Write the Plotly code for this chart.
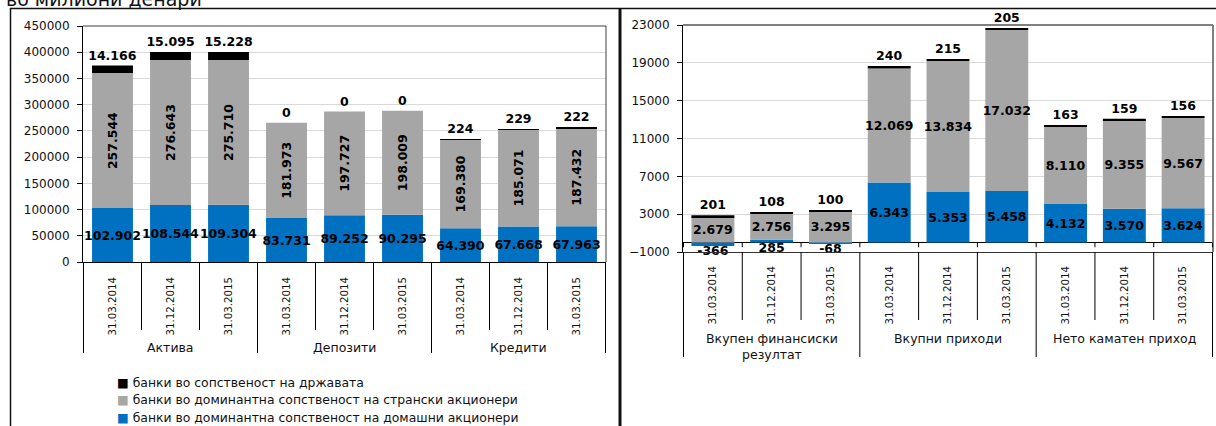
import plotly.graph_objects as go

DATES = ["31.03.2014", "31.12.2014", "31.03.2015"]
LEFT_GROUPS = ["Актива", "Депозити", "Кредити"]
RIGHT_GROUPS = ["Вкупен финансиски<br>резултат", "Вкупни приходи", "Нето каматен приход"]
SERIES = [
    "банки во доминантна сопственост на домашни акционери",
    "банки во доминантна сопственост на странски акционери",
    "банки во сопственост на државата",
]
COLORS = ["#0070C0", "#A6A6A6", "#000000"]

LEFT_DOMESTIC = [102902, 108544, 109304, 83731, 89252, 90295, 64390, 67668, 67963]
LEFT_FOREIGN = [257544, 276643, 275710, 181973, 197727, 198009, 169380, 185071, 187432]
LEFT_STATE = [14166, 15095, 15228, 0, 0, 0, 224, 229, 222]

RIGHT_DOMESTIC = [-366, 285, -68, 6343, 5353, 5458, 4132, 3570, 3624]
RIGHT_FOREIGN = [2679, 2756, 3295, 12069, 13834, 17032, 8110, 9355, 9567]
RIGHT_STATE = [201, 108, 100, 240, 215, 205, 163, 159, 156]

W, H = 1216, 426
FONT = "DejaVu Sans"
LABEL_FONT = {"family": FONT, "size": 12.5, "color": "#000", "weight": "bold"}


def px(x):
    return x / W


def py(y):
    return 1 - y / H


def fmt(v):
    return f"{v:,}".replace(",", ".")


def categories(groups):
    return [f"{g}|{d}" for g in groups for d in DATES]


fig = go.Figure()

panels = [
    ("x", "y", LEFT_GROUPS, [LEFT_DOMESTIC, LEFT_FOREIGN, LEFT_STATE], [0, -90, 0], 0.705, 0),
    ("x2", "y2", RIGHT_GROUPS, [RIGHT_DOMESTIC, RIGHT_FOREIGN, RIGHT_STATE], [0, 0, 0], 0.73, 1000),
]
for xa, ya, groups, values, angles, bar_width, small in panels:
    cats = categories(groups)
    for idx, (name, color, vals, ang) in enumerate(zip(SERIES, COLORS, values, angles)):
        # tiny first-series segments get their label below the bar (drawn on top later)
        labels = [fmt(v) if idx or abs(v) >= small else "" for v in vals]
        fig.add_trace(
            go.Bar(
                x=cats,
                y=vals,
                name=name,
                width=bar_width,
                xaxis=xa,
                yaxis=ya,
                marker={"color": color, "line": {"width": 0}},
                text=labels,
                textposition="outside" if idx == 2 else "inside",
                insidetextanchor="middle",
                textangle=ang,
                constraintext="none",
                cliponaxis=False,
                textfont=LABEL_FONT,
                showlegend=False,
            )
        )
    tiny = [(c, v) for c, v in zip(cats, values[0]) if abs(v) < small]
    if tiny:
        fig.add_trace(
            go.Scatter(
                x=[c for c, _ in tiny],
                y=[min(v, 0) for _, v in tiny],
                mode="text",
                text=[fmt(v) for _, v in tiny],
                textposition="bottom center",
                textfont=LABEL_FONT,
                xaxis=xa,
                yaxis=ya,
                cliponaxis=False,
                showlegend=False,
                hoverinfo="skip",
            )
        )

tick_font = {"family": FONT, "size": 12, "color": "#111"}
date_font = {"family": FONT, "size": 10.2, "color": "#111"}

layout = {
    "width": W,
    "height": H,
    "margin": {"l": 0, "r": 0, "t": 0, "b": 0, "autoexpand": False},
    "paper_bgcolor": "white",
    "plot_bgcolor": "white",
    "barmode": "relative",
    "font": {"family": FONT, "color": "#111"},
    "showlegend": False,
    "xaxis": {
        "domain": [px(83), px(606)],
        "anchor": "y",
        "type": "category",
        "tickvals": categories(LEFT_GROUPS),
        "ticktext": DATES * 3,
        "tickangle": -90,
        "tickfont": date_font,
        "ticks": "",
        "ticklabelstandoff": 10,
        "showline": True,
        "linecolor": "#000",
        "showgrid": False,
    },
    "yaxis": {
        "domain": [py(262), py(26)],
        "anchor": "x",
        "range": [0, 450000],
        "dtick": 50000,
        "tickformat": "d",
        "tickfont": tick_font,
        "ticks": "outside",
        "ticklen": 5,
        "tickcolor": "#000",
        "ticklabelstandoff": 5,
        "showline": True,
        "linecolor": "#000",
        "gridcolor": "#d9d9d9",
        "zeroline": False,
    },
    "xaxis2": {
        "domain": [px(683), px(1213)],
        "anchor": "y2",
        "type": "category",
        "tickvals": categories(RIGHT_GROUPS),
        "ticktext": DATES * 3,
        "tickangle": -90,
        "tickfont": date_font,
        "ticks": "",
        "ticklabelstandoff": 9,
        "showline": True,
        "linecolor": "#333",
        "showgrid": False,
    },
    "yaxis2": {
        "domain": [py(252), py(25)],
        "anchor": "x2",
        "range": [-1000, 23000],
        "tickvals": list(range(-1000, 23001, 4000)),
        "tickformat": "d",
        "tickfont": tick_font,
        "ticks": "outside",
        "ticklen": 5,
        "tickcolor": "#000",
        "ticklabelstandoff": 5,
        "showline": True,
        "linecolor": "#000",
        "gridcolor": "#d9d9d9",
        "zeroline": True,
        "zerolinecolor": "#000",
        "zerolinewidth": 1,
    },
}
fig.update_layout(**layout)

shapes = []
# plot-area borders (top and right)
for xa, ya, color, width in (("x", "y", "#404040", 1), ("x2", "y2", "#808080", 2)):
    shapes.append({"type": "line", "xref": f"{xa} domain", "yref": f"{ya} domain",
                   "x0": 0, "x1": 1, "y0": 1, "y1": 1, "line": {"color": color, "width": width}})
    shapes.append({"type": "line", "xref": f"{xa} domain", "yref": f"{ya} domain",
                   "x0": 1, "x1": 1, "y0": 0, "y1": 1, "line": {"color": color, "width": width}})

# category dividers below each axis
for xa, top, short, long in (("x", 262, 330, 353), ("x2", 252, 320, 357)):
    for i in range(10):
        shapes.append({"type": "line", "xref": xa, "yref": "paper",
                       "x0": i - 0.5, "x1": i - 0.5, "y0": py(top), "y1": py(long if i % 3 == 0 else short),
                       "line": {"color": "#000", "width": 1}})

# small ticks on the zero line of the right chart
for i in range(10):
    shapes.append({"type": "line", "xref": "x2", "yref": "y2",
                   "x0": i - 0.5, "x1": i - 0.5, "y0": 0, "y1": -500,
                   "line": {"color": "#000", "width": 1}})

# panel frames
frame = {"color": "#111", "width": 1.5}
shapes.append({"type": "line", "xref": "paper", "yref": "paper", "x0": px(10), "x1": 1,
               "y0": py(8.5), "y1": py(8.5), "line": frame})
shapes.append({"type": "line", "xref": "paper", "yref": "paper", "x0": px(10.5), "x1": px(10.5),
               "y0": py(8), "y1": 0, "line": frame})
shapes.append({"type": "line", "xref": "paper", "yref": "paper", "x0": px(620), "x1": px(620),
               "y0": py(8), "y1": 0, "line": {"color": "#111", "width": 3}})
fig.update_layout(shapes=shapes)

annotations = [
    {"text": "во милиони денари", "xref": "paper", "yref": "paper", "x": px(4), "y": py(12),
     "xanchor": "left", "yanchor": "bottom", "showarrow": False,
     "font": {"family": FONT, "size": 19, "color": "#111"}},
]
for xa, groups, top in (("x", LEFT_GROUPS, 338), ("x2", RIGHT_GROUPS, 329)):
    for k, g in enumerate(groups):
        annotations.append({"text": g, "xref": xa, "yref": "paper", "x": 3 * k + 1, "y": py(top),
                            "xanchor": "center", "yanchor": "top", "showarrow": False,
                            "font": {"family": FONT, "size": 12.5, "color": "#111"}})

# legend rows (top to bottom: state, foreign, domestic)
for row, (name, color) in enumerate(zip(SERIES[::-1], COLORS[::-1])):
    annotations.append({"text": f"<span style='color:{color}'>■</span> {name}",
                        "xref": "paper", "yref": "paper", "x": px(115), "y": py(382 + 17.5 * row),
                        "xanchor": "left", "yanchor": "middle", "showarrow": False,
                        "font": {"family": FONT, "size": 12.4, "color": "#111"}})
fig.update_layout(annotations=annotations)

fig.write_html(
    "out.html",
    config={"displayModeBar": False},
    post_script="document.body.style.margin='0';",
)
